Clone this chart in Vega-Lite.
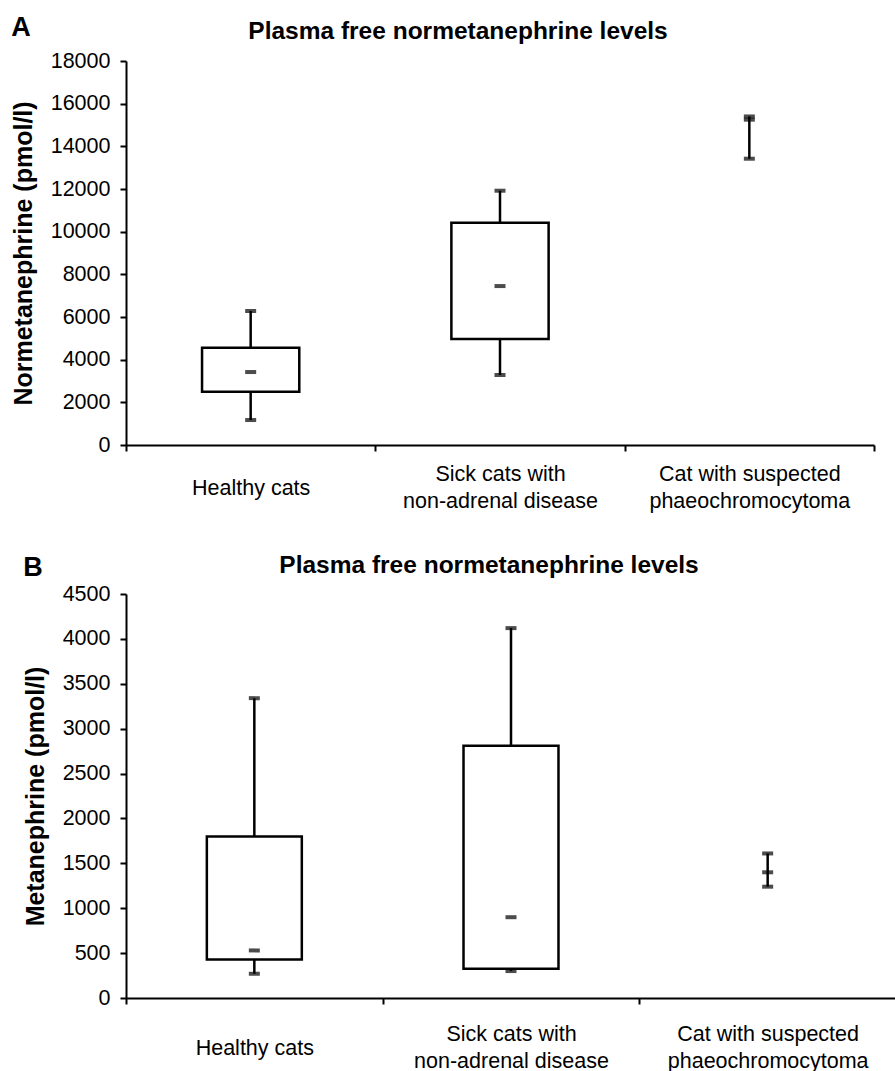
{
  "$schema": "https://vega.github.io/schema/vega-lite/v6.json",
  "background": "white",
  "padding": {"left": 11, "top": 13, "right": 0, "bottom": 0},
  "config": {
    "view": {"stroke": null},
    "font": "Liberation Sans",
    "concat": {"spacing": 40},
    "axis": {"domainColor": "black", "domainWidth": 2, "tickColor": "black", "tickWidth": 2, "labelColor": "black", "titleColor": "black", "grid": false}
  },
  "vconcat": [
    {
      "title": {"text": "A", "anchor": "start", "fontSize": 27, "fontWeight": "bold", "color": "black", "offset": -23},
      "vconcat": [
        {
          "width": 748,
          "height": 384,
          "title": {"text": "Plasma free normetanephrine levels", "fontSize": 24.5, "fontWeight": "bold", "color": "black", "anchor": "middle", "dx": -42, "dy": 8, "offset": 14},
          "data": {"values": [
            {"group": "Healthy cats", "min": 1170, "q1": 2500, "median": 3420, "q3": 4560, "max": 6280},
            {"group": "Sick cats with non-adrenal disease", "min": 3280, "q1": 4970, "median": 7450, "q3": 10420, "max": 11920},
            {"group": "Cat with suspected phaeochromocytoma", "min": 13420, "q1": null, "median": 15250, "q3": null, "max": 15400}
          ]},
          "encoding": {
            "x": {"field": "group", "type": "nominal", "sort": null,
              "scale": {"paddingInner": 0, "paddingOuter": 0},
              "axis": {"title": null, "labelAngle": 0, "tickBand": "extent", "tickSize": 6, "labelFontSize": 21.5,
                "labelBaseline": {"condition": {"test": "datum.value == 'Healthy cats'", "value": "line-top"}, "value": "middle"},
                "labelPadding": 23, "labelLineHeight": 27, "labelLimit": 0,
                "labelExpr": "datum.label == 'Sick cats with non-adrenal disease' ? ['Sick cats with', 'non-adrenal disease'] : datum.label == 'Cat with suspected phaeochromocytoma' ? ['Cat with suspected', 'phaeochromocytoma'] : datum.label"}}
          },
          "layer": [
            {"mark": {"type": "rule", "color": "black", "strokeWidth": 2.5},
              "encoding": {
                "y": {"field": "min", "type": "quantitative", "title": "Normetanephrine (pmol/l)",
                  "scale": {"domain": [0, 18000], "nice": false},
                  "axis": {"values": [0, 2000, 4000, 6000, 8000, 10000, 12000, 14000, 16000, 18000], "format": "d", "tickSize": 6, "labelPadding": 10, "labelFontSize": 21.5, "titleFontSize": 25, "titleFontWeight": "bold", "titlePadding": 14}},
                "y2": {"field": "max"}}},
            {"mark": {"type": "bar", "fill": "white", "stroke": "black", "strokeWidth": 2.5, "width": {"band": 0.39}},
              "encoding": {"y": {"field": "q1", "type": "quantitative", "title": "Normetanephrine (pmol/l)"}, "y2": {"field": "q3"}}},
            {"mark": {"type": "tick", "color": "black", "thickness": 4, "size": 11},
              "encoding": {"y": {"field": "min", "type": "quantitative", "title": "Normetanephrine (pmol/l)"}}},
            {"mark": {"type": "tick", "color": "black", "thickness": 4, "size": 11},
              "encoding": {"y": {"field": "max", "type": "quantitative", "title": "Normetanephrine (pmol/l)"}}},
            {"mark": {"type": "tick", "color": "black", "thickness": 4, "size": 11},
              "encoding": {"y": {"field": "median", "type": "quantitative", "title": "Normetanephrine (pmol/l)"}}}
          ]
        }
      ]
    },
    {
      "title": {"text": "B", "anchor": "start", "fontSize": 27, "fontWeight": "bold", "color": "black", "offset": -29},
      "vconcat": [
        {
          "width": 770,
          "height": 404,
          "title": {"text": "Plasma free normetanephrine levels", "fontSize": 24.5, "fontWeight": "bold", "color": "black", "anchor": "middle", "dx": -22, "dy": 8, "offset": 13},
          "data": {"values": [
            {"group": "Healthy cats", "min": 270, "q1": 430, "median": 530, "q3": 1800, "max": 3340},
            {"group": "Sick cats with non-adrenal disease", "min": 300, "q1": 325, "median": 900, "q3": 2810, "max": 4120},
            {"group": "Cat with suspected phaeochromocytoma", "min": 1240, "q1": null, "median": 1400, "q3": null, "max": 1610}
          ]},
          "encoding": {
            "x": {"field": "group", "type": "nominal", "sort": null,
              "scale": {"paddingInner": 0, "paddingOuter": 0},
              "axis": {"title": null, "labelAngle": 0, "tickBand": "extent", "tickSize": 6, "labelFontSize": 21.5,
                "labelBaseline": {"condition": {"test": "datum.value == 'Healthy cats'", "value": "line-top"}, "value": "middle"},
                "labelPadding": 30, "labelLineHeight": 27, "labelLimit": 0,
                "labelExpr": "datum.label == 'Sick cats with non-adrenal disease' ? ['Sick cats with', 'non-adrenal disease'] : datum.label == 'Cat with suspected phaeochromocytoma' ? ['Cat with suspected', 'phaeochromocytoma'] : datum.label"}}
          },
          "layer": [
            {"mark": {"type": "rule", "color": "black", "strokeWidth": 2.5},
              "encoding": {
                "y": {"field": "min", "type": "quantitative", "title": "Metanephrine (pmol/l)",
                  "scale": {"domain": [0, 4500], "nice": false},
                  "axis": {"values": [0, 500, 1000, 1500, 2000, 2500, 3000, 3500, 4000, 4500], "format": "d", "tickSize": 6, "labelPadding": 10, "labelFontSize": 21.5, "titleFontSize": 25, "titleFontWeight": "bold", "titlePadding": 14}},
                "y2": {"field": "max"}}},
            {"mark": {"type": "bar", "fill": "white", "stroke": "black", "strokeWidth": 2.5, "width": {"band": 0.37}},
              "encoding": {"y": {"field": "q1", "type": "quantitative", "title": "Metanephrine (pmol/l)"}, "y2": {"field": "q3"}}},
            {"mark": {"type": "tick", "color": "black", "thickness": 4, "size": 11},
              "encoding": {"y": {"field": "min", "type": "quantitative", "title": "Metanephrine (pmol/l)"}}},
            {"mark": {"type": "tick", "color": "black", "thickness": 4, "size": 11},
              "encoding": {"y": {"field": "max", "type": "quantitative", "title": "Metanephrine (pmol/l)"}}},
            {"mark": {"type": "tick", "color": "black", "thickness": 4, "size": 11},
              "encoding": {"y": {"field": "median", "type": "quantitative", "title": "Metanephrine (pmol/l)"}}}
          ]
        }
      ]
    }
  ]
}
